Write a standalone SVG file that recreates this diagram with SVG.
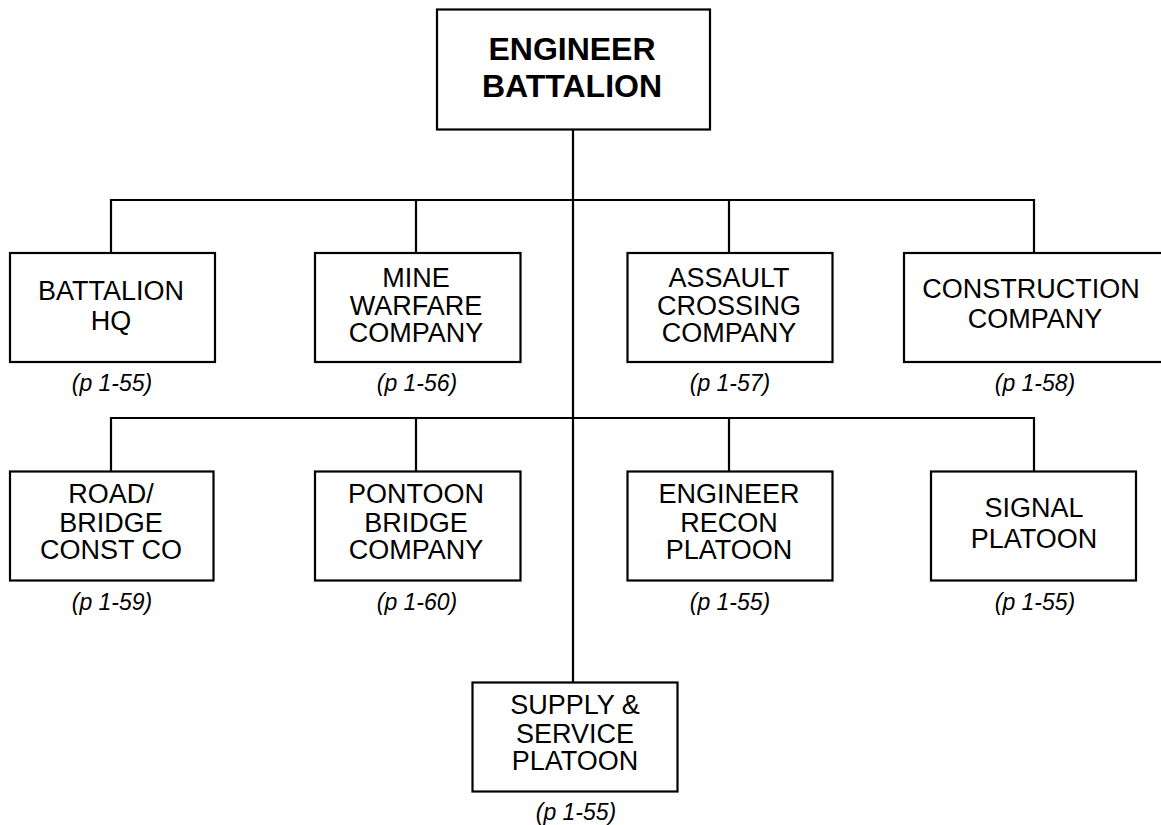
<svg xmlns="http://www.w3.org/2000/svg" width="1161" height="825" viewBox="0 0 1161 825">
<style>
.box{fill:#fff;stroke:#000;stroke-width:2.2}
.ln{fill:none;stroke:#000;stroke-width:2.2}
text{font-family:"Liberation Sans",Arial,sans-serif;fill:#000;text-anchor:middle}
.t{font-size:27px}
.b{font-size:32px;font-weight:bold}
.p{font-size:23px;font-style:italic}
</style>
<rect width="1161" height="825" fill="#fff"/>
<g id="connectors">
<path class="ln" d="M573 130V682"/>
<path class="ln" d="M111 253V200H1034V253"/>
<path class="ln" d="M416 200V253M729 200V253"/>
<path class="ln" d="M111 471V418H1034V471"/>
<path class="ln" d="M416 418V471M729 418V471"/>
</g>
<g id="n-engineer-battalion">
<rect class="box" x="437" y="9.5" width="273" height="120"/>
<text class="b" x="572" y="60">ENGINEER</text>
<text class="b" x="572" y="97">BATTALION</text>
</g>
<g id="n-battalion-hq">
<rect class="box" x="10" y="253" width="205" height="109"/>
<text class="t" x="111" y="300">BATTALION</text>
<text class="t" x="111" y="330">HQ</text>
<text class="p" x="112" y="391">(p 1-55)</text>
</g>
<g id="n-mine-warfare">
<rect class="box" x="315" y="253" width="205.5" height="109"/>
<text class="t" x="416" y="287">MINE</text>
<text class="t" x="416" y="314.5">WARFARE</text>
<text class="t" x="416" y="342">COMPANY</text>
<text class="p" x="417" y="391">(p 1-56)</text>
</g>
<g id="n-assault-crossing">
<rect class="box" x="627.5" y="253" width="205" height="109"/>
<text class="t" x="729" y="287">ASSAULT</text>
<text class="t" x="729" y="314.5">CROSSING</text>
<text class="t" x="729" y="342">COMPANY</text>
<text class="p" x="730" y="391">(p 1-57)</text>
</g>
<g id="n-construction">
<rect class="box" x="904" y="253" width="270" height="109"/>
<text class="t" x="1031" y="298">CONSTRUCTION</text>
<text class="t" x="1035" y="328">COMPANY</text>
<text class="p" x="1035" y="391">(p 1-58)</text>
</g>
<g id="n-road-bridge">
<rect class="box" x="10" y="471.5" width="203.5" height="109"/>
<text class="t" x="111" y="503">ROAD/</text>
<text class="t" x="111" y="531.5">BRIDGE</text>
<text class="t" x="111" y="559">CONST CO</text>
<text class="p" x="112" y="610">(p 1-59)</text>
</g>
<g id="n-pontoon-bridge">
<rect class="box" x="315" y="471.5" width="205.5" height="109"/>
<text class="t" x="416" y="503">PONTOON</text>
<text class="t" x="416" y="531.5">BRIDGE</text>
<text class="t" x="416" y="559">COMPANY</text>
<text class="p" x="417" y="610">(p 1-60)</text>
</g>
<g id="n-engineer-recon">
<rect class="box" x="627.5" y="471.5" width="205" height="109"/>
<text class="t" x="729" y="503">ENGINEER</text>
<text class="t" x="729" y="531.5">RECON</text>
<text class="t" x="729" y="559">PLATOON</text>
<text class="p" x="730" y="610">(p 1-55)</text>
</g>
<g id="n-signal-platoon">
<rect class="box" x="931" y="471.5" width="205" height="109"/>
<text class="t" x="1034" y="517">SIGNAL</text>
<text class="t" x="1034" y="548">PLATOON</text>
<text class="p" x="1035" y="610">(p 1-55)</text>
</g>
<g id="n-supply-service">
<rect class="box" x="472.5" y="682.5" width="205" height="109"/>
<text class="t" x="575" y="714">SUPPLY &amp;</text>
<text class="t" x="575" y="742.5">SERVICE</text>
<text class="t" x="575" y="770">PLATOON</text>
<text class="p" x="576" y="820">(p 1-55)</text>
</g>
</svg>
